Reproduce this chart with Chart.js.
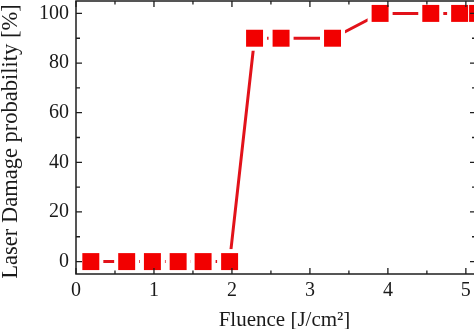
<!DOCTYPE html>
<html>
<head>
<meta charset="utf-8">
<script src="https://cdn.jsdelivr.net/npm/chart.js@4.4.1/dist/chart.umd.min.js"></script>
<style>
  html, body { margin: 0; padding: 0; background: #fff; }
  #wrap { width: 474px; height: 329px; overflow: hidden; }
  #box { width: 480px; height: 329px; }
</style>
</head>
<body>
<div id="wrap"><div id="box"><canvas id="damage-chart"></canvas></div></div>
<script>
  // data
  const fluence = [0.19, 0.65, 0.98, 1.31, 1.63, 1.97, 2.29, 2.63, 3.29, 3.90, 4.55, 4.92, 5.15];
  const probability = [0, 0, 0, 0, 0, 0, 90, 90, 90, 100, 100, 100, 100];

  const xTicks = [0, 1, 2, 3, 4, 5];
  const xMinor = [0.5, 1.5, 2.5, 3.5, 4.5];
  const yTicks = [0, 20, 40, 60, 80, 100];
  const yMinor = [10, 30, 50, 70, 90];

  const xTitle = 'Fluence [J/cm²]';
  const yTitle = 'Laser Damage probability [%]';

  const points = fluence.map((f, i) => ({ x: f, y: probability[i] }));
  const font = { family: '"Liberation Serif", "Times New Roman", serif', size: 20 };

  // frame with inward ticks on all four sides, plus axis titles
  const framePlugin = {
    id: 'frame',
    afterDraw(chart) {
      const { ctx, chartArea: a, scales: { x, y } } = chart;
      ctx.save();
      ctx.strokeStyle = '#1e1e1e';
      ctx.lineWidth = 1.5;
      ctx.strokeRect(a.left, a.top, a.right - a.left, a.bottom - a.top);

      ctx.lineWidth = 1.3;
      ctx.beginPath();
      const xt = (list, len) => list.forEach(v => {
        const px = x.getPixelForValue(v);
        ctx.moveTo(px, a.bottom); ctx.lineTo(px, a.bottom - len);
        ctx.moveTo(px, a.top); ctx.lineTo(px, a.top + len);
      });
      const yt = (list, len) => list.forEach(v => {
        const py = y.getPixelForValue(v);
        ctx.moveTo(a.left, py); ctx.lineTo(a.left + len, py);
        ctx.moveTo(a.right, py); ctx.lineTo(a.right - len, py);
      });
      xt(xTicks, 6); xt(xMinor, 3.5);
      yt(yTicks, 6); yt(yMinor, 4);
      ctx.stroke();

      ctx.fillStyle = '#1a1a1a';
      ctx.textAlign = 'center';
      ctx.textBaseline = 'alphabetic';
      ctx.font = '21px "Liberation Serif", "Times New Roman", serif';
      ctx.fillText(xTitle, 284.5, 326);

      ctx.font = '22.5px "Liberation Serif", "Times New Roman", serif';
      ctx.translate(17, 141.5);
      ctx.rotate(-Math.PI / 2);
      ctx.fillText(yTitle, 0, 0);
      ctx.restore();
    }
  };

  new Chart(document.getElementById('damage-chart'), {
    type: 'scatter',
    data: {
      datasets: [{
        label: 'line',
        data: points,
        showLine: true,
        borderColor: '#e2121a',
        borderWidth: 3,
        pointRadius: 0,
        order: 3
      }, {
        label: 'halo',
        data: points,
        showLine: false,
        pointStyle: 'rect',
        pointRadius: 17.7,
        pointBackgroundColor: '#ffffff',
        pointBorderWidth: 0,
        order: 2
      }, {
        label: 'markers',
        data: points,
        showLine: false,
        pointStyle: 'rect',
        pointRadius: 12,
        pointBackgroundColor: '#f20000',
        pointBorderWidth: 0,
        order: 1
      }]
    },
    options: {
      responsive: true,
      maintainAspectRatio: false,
      animation: false,
      layout: { autoPadding: false, padding: { top: 1, right: 4, left: 0, bottom: 0 } },
      scales: {
        x: {
          type: 'linear',
          min: 0,
          max: 5.13,
          grid: { display: false, drawTicks: false },
          border: { display: false },
          afterBuildTicks: s => { s.ticks = xTicks.map(v => ({ value: v })); },
          afterFit: s => { s.height = 55; s.paddingLeft = 0; s.paddingRight = 0; },
          ticks: { font: font, color: '#1a1a1a', padding: 5, maxRotation: 0 }
        },
        y: {
          type: 'linear',
          min: -5,
          max: 105,
          grid: { display: false, drawTicks: false },
          border: { display: false },
          afterBuildTicks: s => { s.ticks = yTicks.map(v => ({ value: v })); },
          afterFit: s => { s.width = 76; s.paddingTop = 0; s.paddingBottom = 0; },
          ticks: { font: font, color: '#1a1a1a', padding: 7 }
        }
      },
      plugins: {
        legend: { display: false },
        tooltip: { enabled: false }
      }
    },
    plugins: [framePlugin]
  });
</script>
</body>
</html>
